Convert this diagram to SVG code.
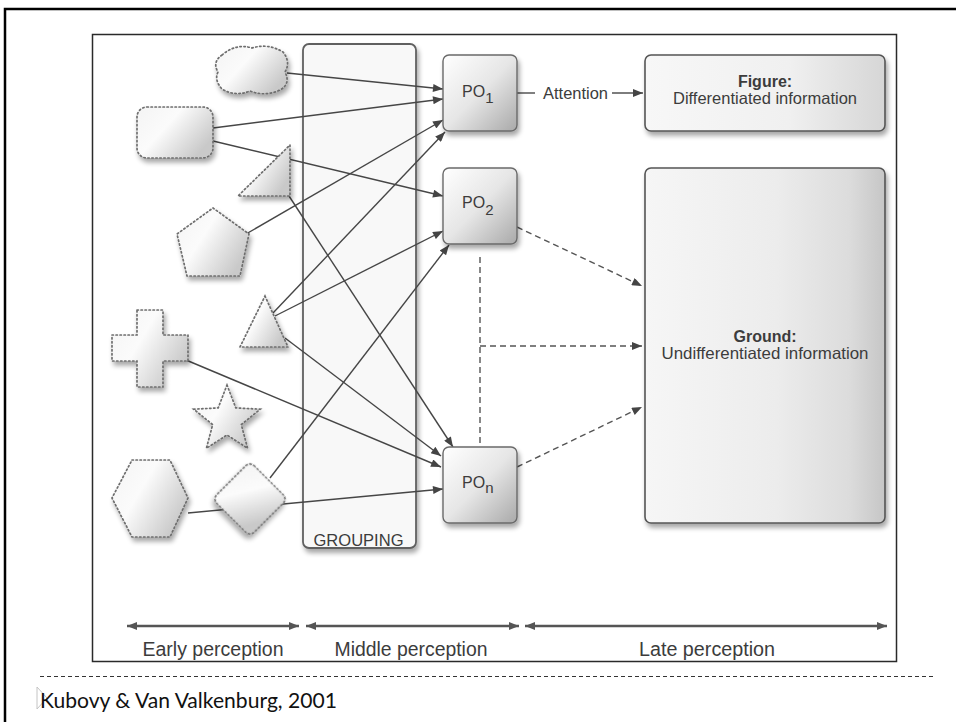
<svg xmlns="http://www.w3.org/2000/svg" width="956" height="722" viewBox="0 0 956 722">
  <defs>
    <style>
      .lbl { font-family: "Liberation Sans", Arial, sans-serif; fill: #3c3c3c; }
      .conn { fill: none; stroke: #464646; stroke-width: 1.4; marker-end: url(#ah); }
      .dash { fill: none; stroke: #555; stroke-width: 1.4; stroke-dasharray: 6 4; }
      .blob { fill: url(#gShape); stroke: #6e6e6e; stroke-width: 1.7; stroke-dasharray: 1.4 2.6; stroke-linecap: round; filter: url(#shadow); }
      .po { fill: url(#gPO); stroke: #6a6a6a; stroke-width: 1.4; filter: url(#shadow); }
      .span { fill: none; stroke: #555; stroke-width: 2.6; marker-start: url(#ah2); marker-end: url(#ah2); }
    </style>
    <linearGradient id="gShape" x1="0" y1="0" x2="1" y2="0.6">
      <stop offset="0" stop-color="#f4f4f4"/>
      <stop offset="0.45" stop-color="#fbfbfb"/>
      <stop offset="1" stop-color="#c9c9c9"/>
    </linearGradient>
    <linearGradient id="gPO" x1="0" y1="0" x2="1" y2="1">
      <stop offset="0" stop-color="#ffffff"/>
      <stop offset="0.5" stop-color="#e6e6e6"/>
      <stop offset="1" stop-color="#a9a9a9"/>
    </linearGradient>
    <linearGradient id="gFig" x1="0" y1="0" x2="1" y2="0">
      <stop offset="0" stop-color="#f7f7f7"/>
      <stop offset="0.6" stop-color="#f0f0f0"/>
      <stop offset="1" stop-color="#d6d6d6"/>
    </linearGradient>
    <linearGradient id="gGround" x1="0" y1="0" x2="1" y2="0">
      <stop offset="0" stop-color="#f6f6f6"/>
      <stop offset="0.55" stop-color="#ececec"/>
      <stop offset="0.85" stop-color="#dcdcdc"/>
      <stop offset="1" stop-color="#c6c6c6"/>
    </linearGradient>
    <filter id="shadow" x="-20%" y="-20%" width="150%" height="150%">
      <feGaussianBlur in="SourceAlpha" stdDeviation="2.5"/>
      <feOffset dx="2" dy="4" result="b"/>
      <feComponentTransfer><feFuncA type="linear" slope="0.35"/></feComponentTransfer>
      <feMerge><feMergeNode/><feMergeNode in="SourceGraphic"/></feMerge>
    </filter>
    <marker id="ah" viewBox="0 0 10 8" refX="10" refY="4" markerWidth="11" markerHeight="8" markerUnits="userSpaceOnUse" orient="auto">
      <path d="M0,0 L10,4 L0,8 Z" fill="#444"/>
    </marker>
    <marker id="ah2" viewBox="0 0 10 8" refX="10" refY="4" markerWidth="10" markerHeight="9" markerUnits="userSpaceOnUse" orient="auto-start-reverse">
      <path d="M0,0 L10,4 L0,8 Z" fill="#555"/>
    </marker>
  </defs>

  <rect x="0" y="0" width="956" height="722" fill="#ffffff"/>

  <!-- slide frame -->
  <path d="M5,722 L5,9 L956,9" fill="none" stroke="#000" stroke-width="2.5"/>

  <!-- figure frame -->
  <rect x="92.5" y="34.5" width="804" height="627" fill="#ffffff" stroke="#2a2a2a" stroke-width="1.5"/>

  <!-- grouping stage -->
  <g id="grouping">
    <rect x="303" y="44" width="113" height="504" rx="6" fill="#f8f8f8" stroke="#606060" stroke-width="1.8" filter="url(#shadow)"/>
    <text class="lbl" x="358.5" y="546" font-size="17" text-anchor="middle" textLength="90" lengthAdjust="spacingAndGlyphs">GROUPING</text>
  </g>

  <!-- connectors -->
  <g id="connectors">
    <line class="conn" x1="287" y1="73" x2="443" y2="89"/>
    <line class="conn" x1="213" y1="128" x2="443" y2="99"/>
    <line class="conn" x1="213" y1="141" x2="443" y2="196"/>
    <line class="conn" x1="246" y1="234" x2="443" y2="120"/>
    <line class="conn" x1="289" y1="196" x2="453" y2="447"/>
    <line class="conn" x1="273" y1="313" x2="445" y2="132"/>
    <line class="conn" x1="275" y1="316" x2="443" y2="231"/>
    <line class="conn" x1="285" y1="338" x2="441" y2="456"/>
    <line class="conn" x1="186" y1="360" x2="441" y2="467"/>
    <line class="conn" x1="188" y1="513" x2="443" y2="489"/>
    <line class="conn" x1="270" y1="478" x2="449" y2="245"/>
    <!-- attention path -->
    <line x1="517" y1="93" x2="535" y2="93" stroke="#4a4a4a" stroke-width="1.4"/>
    <line class="conn" x1="612" y1="93" x2="643" y2="93"/>
    <!-- ground links -->
    <line class="dash" x1="517" y1="227" x2="642" y2="286" marker-end="url(#ah)"/>
    <line class="dash" x1="480" y1="257" x2="480" y2="443"/>
    <line class="dash" x1="480" y1="346" x2="642" y2="346" marker-end="url(#ah)"/>
    <line class="dash" x1="517" y1="467" x2="642" y2="407" marker-end="url(#ah)"/>
  </g>

  <!-- early shapes -->
  <g id="shape-cloud">
    <path class="blob" d="M222,55 Q236,43 252,48 Q268,43 283,52 Q291,62 285,72 Q291,84 280,90 Q265,97 250,91 Q235,97 222,89 Q214,80 218,72 Q212,62 222,55 Z"/>
  </g>
  <g id="shape-rounded">
    <rect class="blob" x="137" y="107" width="76" height="51" rx="10"/>
  </g>
  <g id="shape-right-triangle">
    <polygon class="blob" points="290,145 290,196 238,196"/>
  </g>
  <g id="shape-pentagon">
    <polygon class="blob" points="213,208 249,234 240,276 187,276 177,234"/>
  </g>
  <g id="shape-triangle">
    <polygon class="blob" points="265,296 288,347 240,347"/>
  </g>
  <g id="shape-cross">
    <path class="blob" d="M137,310 L163,310 L163,335 L188,335 L188,361 L163,361 L163,387 L137,387 L137,361 L112,361 L112,335 L137,335 Z"/>
  </g>
  <g id="shape-star">
    <polygon class="blob" points="227,385 235.8,407.9 260.3,409.2 241.3,424.6 247.6,448.3 227,435 206.4,448.3 212.7,424.6 193.7,409.2 218.2,407.9"/>
  </g>
  <g id="shape-hexagon">
    <polygon class="blob" points="132,460 170,460 188,498 170,537 132,537 112,498"/>
  </g>
  <g id="shape-diamond">
    <rect class="blob" x="-26.5" y="-26.5" width="53" height="53" rx="6" transform="translate(250,499) rotate(45)"/>
  </g>

  <!-- perceptual objects -->
  <g id="po1">
    <rect class="po" x="443" y="55" width="74" height="76" rx="6"/>
    <text class="lbl" x="462" y="97" font-size="16">PO<tspan font-size="15" dy="6">1</tspan></text>
  </g>
  <g id="po2">
    <rect class="po" x="443" y="168" width="74" height="76" rx="6"/>
    <text class="lbl" x="462" y="208" font-size="16">PO<tspan font-size="15" dy="7">2</tspan></text>
  </g>
  <g id="pon">
    <rect class="po" x="443" y="447" width="74" height="76" rx="6"/>
    <text class="lbl" x="462" y="488" font-size="16">PO<tspan font-size="15" dy="5">n</tspan></text>
  </g>

  <g id="attention">
    <text class="lbl" x="543" y="99" font-size="16.5" textLength="65" lengthAdjust="spacingAndGlyphs">Attention</text>
  </g>

  <!-- late stage -->
  <g id="figure">
    <rect x="645" y="55" width="240" height="76" rx="6" fill="url(#gFig)" stroke="#555" stroke-width="1.6" filter="url(#shadow)"/>
    <text class="lbl" x="765" y="87" font-size="16" font-weight="bold" text-anchor="middle">Figure:</text>
    <text class="lbl" x="765" y="104" font-size="16.5" text-anchor="middle" textLength="184" lengthAdjust="spacingAndGlyphs">Differentiated information</text>
  </g>
  <g id="ground">
    <rect x="645" y="168" width="240" height="355" rx="6" fill="url(#gGround)" stroke="#555" stroke-width="1.6" filter="url(#shadow)"/>
    <text class="lbl" x="765" y="342" font-size="16" font-weight="bold" text-anchor="middle">Ground:</text>
    <text class="lbl" x="765" y="359" font-size="16.5" text-anchor="middle" textLength="207" lengthAdjust="spacingAndGlyphs">Undifferentiated information</text>
  </g>

  <!-- stage spans -->
  <g id="stages">
    <line class="span" x1="127" y1="626" x2="299" y2="626"/>
    <line class="span" x1="306" y1="626" x2="519" y2="626"/>
    <line class="span" x1="525" y1="626" x2="887" y2="626"/>
    <text class="lbl" x="213" y="656" font-size="19.5" text-anchor="middle" textLength="141" lengthAdjust="spacingAndGlyphs">Early perception</text>
    <text class="lbl" x="411" y="656" font-size="19.5" text-anchor="middle" textLength="153" lengthAdjust="spacingAndGlyphs">Middle perception</text>
    <text class="lbl" x="707" y="656" font-size="19.5" text-anchor="middle" textLength="136" lengthAdjust="spacingAndGlyphs">Late perception</text>
  </g>

  <!-- footer -->
  <line x1="40" y1="676.5" x2="935" y2="676.5" stroke="#333" stroke-width="1" stroke-dasharray="4 3"/>
  <polygon points="37,687 47,698 37,709" fill="none" stroke="#c4c4c4" stroke-width="1"/>
  <text x="40" y="708" font-family="Lato, 'Liberation Sans', sans-serif" font-size="22" fill="#111" textLength="297" lengthAdjust="spacingAndGlyphs">Kubovy &amp; Van Valkenburg, 2001</text>
</svg>
